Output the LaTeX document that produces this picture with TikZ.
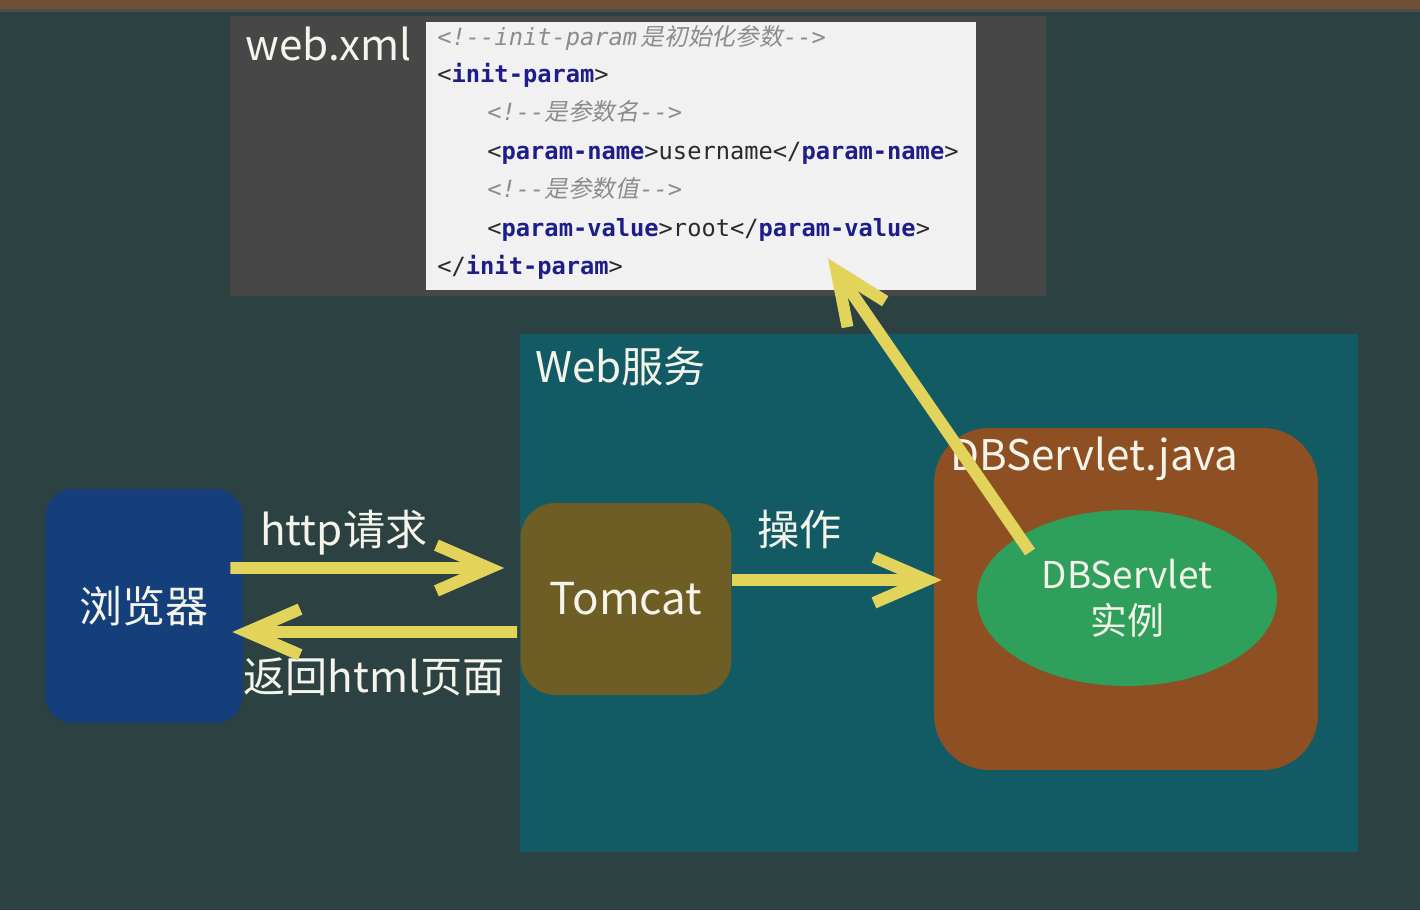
\documentclass[tikz,border=0pt]{standalone}
\usepackage{fontspec}
\setmainfont{Noto Sans CJK SC}
\setmonofont{DejaVu Sans Mono}
\newfontfamily\cjkslant[FakeSlant=0.2]{Noto Sans CJK SC}
\usepackage{xcolor}
\definecolor{board}{HTML}{2C4141}
\definecolor{wood}{HTML}{6E5034}
\definecolor{webTeal}{HTML}{125A64}
\definecolor{xmlGray}{HTML}{474747}
\definecolor{codeBg}{HTML}{F1F1F1}
\definecolor{codeInk}{HTML}{2A2A2A}
\definecolor{tagBlue}{HTML}{1E1E8A}
\definecolor{cmtGray}{HTML}{8C8C8C}
\definecolor{brsBlue}{HTML}{153F7A}
\definecolor{catOlive}{HTML}{6E5E26}
\definecolor{javaBrown}{HTML}{8E4F22}
\definecolor{instGreen}{HTML}{2FA05C}
\definecolor{flowYel}{HTML}{E2D35A}
\definecolor{chalk}{HTML}{F4F4EA}
\usepackage{tikz}
\usetikzlibrary{arrows.meta,shapes.geometric}

\newcommand{\xtag}[1]{\textcolor{tagBlue}{\bfseries #1}}
\newcommand{\xcmt}[1]{{\color{cmtGray}\itshape #1}}

\tikzset{
  lbl/.style={text=chalk, anchor=base west, inner sep=0pt, font=\fontsize{24}{28}\selectfont},
  codeline/.style={anchor=base west, inner sep=0pt, text=codeInk, font=\ttfamily\fontsize{13.5}{16}\selectfont},
  part/.style={text=chalk, inner sep=0pt, align=center},
  flow/.style={draw=flowYel, line width=6.8pt, -{Straight Barb[length=30pt,width=26pt]}}
}

\begin{document}
\begin{tikzpicture}[x=0.02cm, y=-0.02cm]
  \useasboundingbox (0,0) rectangle (1420,910);
  % ---- board ----
  \fill[board] (0,0) rectangle (1420,910);
  \fill[wood] (0,0) rectangle (1420,9);
  \fill[black!70] (0,9) rectangle (1420,12);
  % ---- web.xml panel ----
  \fill[xmlGray] (230,16) rectangle (1046,296);
  \node[lbl, font=\fontsize{24}{28}\selectfont] (xmlname) at (245,60) {web.xml};
  \node[fill=codeBg, minimum width=11cm, minimum height=5.36cm, inner sep=0pt] (code) at (701,156) {};
  \node[codeline] (l1) at (437,45)  {\xcmt{<!--init-param\hspace{0.15em}{\cjkslant 是初始化参数}-->}};
  \node[codeline] (l2) at (437,82)  {<\xtag{init-param}>};
  \node[codeline] (l3) at (487,120) {\xcmt{<!--{\cjkslant 是参数名}-->}};
  \node[codeline] (l4) at (487,159) {<\xtag{param-name}>username</\xtag{param-name}>};
  \node[codeline] (l5) at (487,197) {\xcmt{<!--{\cjkslant 是参数值}-->}};
  \node[codeline] (l6) at (487,236) {<\xtag{param-value}>root</\xtag{param-value}>};
  \node[codeline] (l7) at (437,274) {</\xtag{init-param}>};
  % ---- web service ----
  \fill[webTeal] (520,334) rectangle (1358,852);
  \node[lbl] (websvc) at (535,382) {Web服务};
  \node[part, fill=brsBlue, rounded corners=0.56cm, minimum width=3.96cm, minimum height=4.68cm,
        font=\fontsize{24.5}{28}\selectfont] (browser) at (144,606) {浏览器};
  \node[part, fill=catOlive, rounded corners=0.7cm, minimum width=4.22cm, minimum height=3.84cm,
        font=\fontsize{25}{30}\selectfont] (tomcat) at (626,599) {Tomcat};
  \node[fill=javaBrown, rounded corners=1.1cm, minimum width=7.68cm, minimum height=6.84cm] (java) at (1126,599) {};
  \node[lbl] (javaname) at (950,470) {DBServlet.java};
  \node[part, ellipse, fill=instGreen, minimum width=6cm, minimum height=3.52cm,
        font=\fontsize{21}{26}\selectfont] (inst) at (1127,598) {DBServlet\\实例};
  % ---- arrows ----
  \node[lbl] (req) at (260,545) {http请求};
  \node[lbl] (resp) at (243,692) {返回html页面};
  \node[lbl] (op) at (757,545) {操作};
  \draw[flow] ([xshift=-0.26cm,yshift=0.76cm]browser.east) -- ([xshift=-0.32cm,yshift=0.62cm]tomcat.west);
  \draw[flow] ([xshift=-0.06cm,yshift=-0.66cm]tomcat.west) -- ([xshift=-0.22cm,yshift=-0.52cm]browser.east);
  \draw[flow] ([yshift=0.38cm]tomcat.east) -- ([xshift=0.16cm,yshift=0.38cm]java.west);
  \draw[flow] ([xshift=-1.94cm,yshift=0.92cm]inst.center) -- ([xshift=2.54cm,yshift=0.64cm]code.south);
\end{tikzpicture}
\end{document}
